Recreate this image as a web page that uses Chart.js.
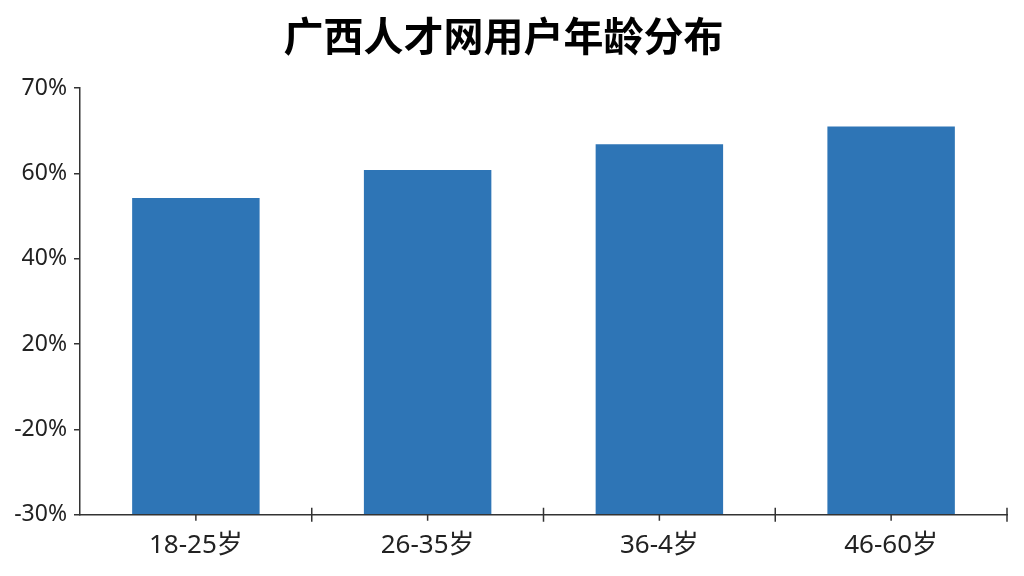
<!DOCTYPE html>
<html>
<head>
<meta charset="utf-8">
<script src="https://cdn.jsdelivr.net/npm/chart.js@4/dist/chart.umd.min.js"></script>
<style>
  html, body { margin: 0; padding: 0; background: #fff; }
  #wrap { width: 1024px; height: 576px; }
</style>
</head>
<body>
<div id="wrap"><canvas id="c" width="1024" height="576"></canvas></div>
<script>
const ageGroups = ["18-25岁", "26-35岁", "36-4岁", "46-60岁"];
const userShare = [54.2, 60.4, 63.4, 65.5];
// the y axis labels are spaced evenly even though their values are not
const yTickLabels = [-30, -20, 20, 40, 60, 70];

// map a percentage onto the evenly spaced tick positions
function toAxis(v) {
  for (let i = 0; i < yTickLabels.length - 1; i++) {
    const a = yTickLabels[i], b = yTickLabels[i + 1];
    if (v <= b) return i + (v - a) / (b - a);
  }
  return yTickLabels.length - 1;
}

const FONT = "'Noto Sans', 'Noto Sans CJK SC', sans-serif";

const xTicks = {
  id: "xTicks",
  afterDraw(chart) {
    const sx = chart.scales.x, ctx = chart.ctx;
    const y0 = chart.chartArea.bottom;
    const half = (sx.getPixelForValue(1) - sx.getPixelForValue(0)) / 2;
    ctx.save();
    ctx.strokeStyle = "#333";
    ctx.lineWidth = 1.5;
    ctx.beginPath();
    ageGroups.forEach((g, i) => {
      const cx = sx.getPixelForValue(i);
      ctx.moveTo(cx, y0); ctx.lineTo(cx, y0 + 6);
      ctx.moveTo(cx + half, y0 - 7); ctx.lineTo(cx + half, y0 + 7);
    });
    ctx.stroke();
    ctx.restore();
  }
};

new Chart(document.getElementById("c").getContext("2d"), {
  type: "bar",
  data: {
    labels: ageGroups,
    datasets: [{
      data: userShare.map(toAxis),
      backgroundColor: "#2e75b6",
      barPercentage: 0.55,
      categoryPercentage: 1
    }]
  },
  options: {
    responsive: false,
    animation: false,
    devicePixelRatio: 1,
    layout: { padding: { left: 0, right: 17, top: 0, bottom: 0 } },
    plugins: {
      legend: { display: false },
      tooltip: { enabled: false },
      title: {
        display: true,
        text: "广西人才网用户年龄分布",
        color: "#000",
        font: { family: FONT, size: 40, weight: "bold" },
        padding: { top: 16, bottom: 24 }
      }
    },
    scales: {
      x: {
        grid: { display: false, drawTicks: false },
        border: { color: "#333", width: 1.5 },
        ticks: { color: "#222", font: { family: FONT, size: 26 }, padding: 15 }
      },
      y: {
        min: 0, max: 5,
        afterFit(s) { s.width = 80; },
        grid: { drawOnChartArea: false, drawTicks: true, tickLength: 6, color: "#333", lineWidth: 1.5 },
        border: { color: "#333", width: 1.5 },
        ticks: {
          stepSize: 1,
          color: "#222",
          padding: 7,
          font: { family: FONT, size: 23 },
          callback: v => yTickLabels[v] + "%"
        }
      }
    }
  },
  plugins: [xTicks]
});
</script>
</body>
</html>
